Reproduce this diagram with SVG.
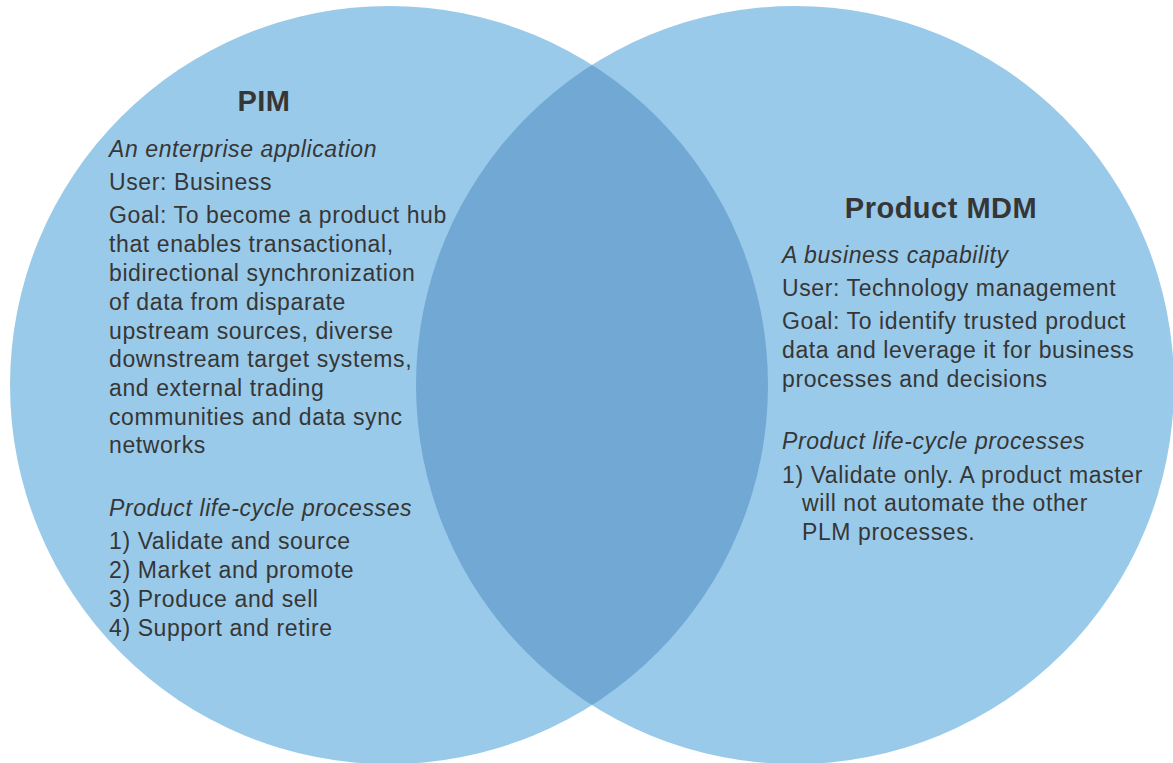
<svg xmlns="http://www.w3.org/2000/svg" width="1173" height="763" viewBox="0 0 1173 763">
<style>
.c{fill:#9acae9}
.o{fill:#72a8d4}
text{font-family:"Liberation Sans",Arial,Helvetica,sans-serif;fill:#363636;font-size:23px;letter-spacing:0.6px}
.h{font-weight:bold;font-size:29px;letter-spacing:0.5px}
.i{font-style:italic}
</style>
<defs>
<clipPath id="lc"><circle cx="389" cy="385" r="379"/></clipPath>
</defs>
<rect width="1173" height="763" fill="#fff"/>
<g id="pim-circle"><circle class="c" cx="389" cy="385" r="379"/></g>
<g id="mdm-circle"><circle class="c" cx="795" cy="385" r="379"/></g>
<g id="overlap"><circle class="o" cx="795" cy="385" r="379" clip-path="url(#lc)"/></g>
<g id="connectors"/>
<g id="pim">
<text class="h" x="264" y="111" text-anchor="middle">PIM</text>
<text class="i" x="109" y="157">An enterprise application</text>
<text x="109" y="190">User: Business</text>
<text x="109" y="223">Goal: To become a product hub</text>
<text x="109" y="252">that enables transactional,</text>
<text x="109" y="281">bidirectional synchronization</text>
<text x="109" y="310">of data from disparate</text>
<text x="109" y="339">upstream sources, diverse</text>
<text x="109" y="367">downstream target systems,</text>
<text x="109" y="396">and external trading</text>
<text x="109" y="425">communities and data sync</text>
<text x="109" y="453">networks</text>
<text class="i" x="109" y="516">Product life-cycle processes</text>
<text x="109" y="549">1) Validate and source</text>
<text x="109" y="578">2) Market and promote</text>
<text x="109" y="607">3) Produce and sell</text>
<text x="109" y="636">4) Support and retire</text>
</g>
<g id="mdm">
<text class="h" x="941" y="218" text-anchor="middle">Product MDM</text>
<text class="i" x="782" y="263">A business capability</text>
<text x="782" y="296">User: Technology management</text>
<text x="782" y="329">Goal: To identify trusted product</text>
<text x="782" y="358">data and leverage it for business</text>
<text x="782" y="387">processes and decisions</text>
<text class="i" x="782" y="449">Product life-cycle processes</text>
<text x="782" y="483">1) Validate only. A product master</text>
<text x="802" y="511">will not automate the other</text>
<text x="802" y="540">PLM processes.</text>
</g>
</svg>
